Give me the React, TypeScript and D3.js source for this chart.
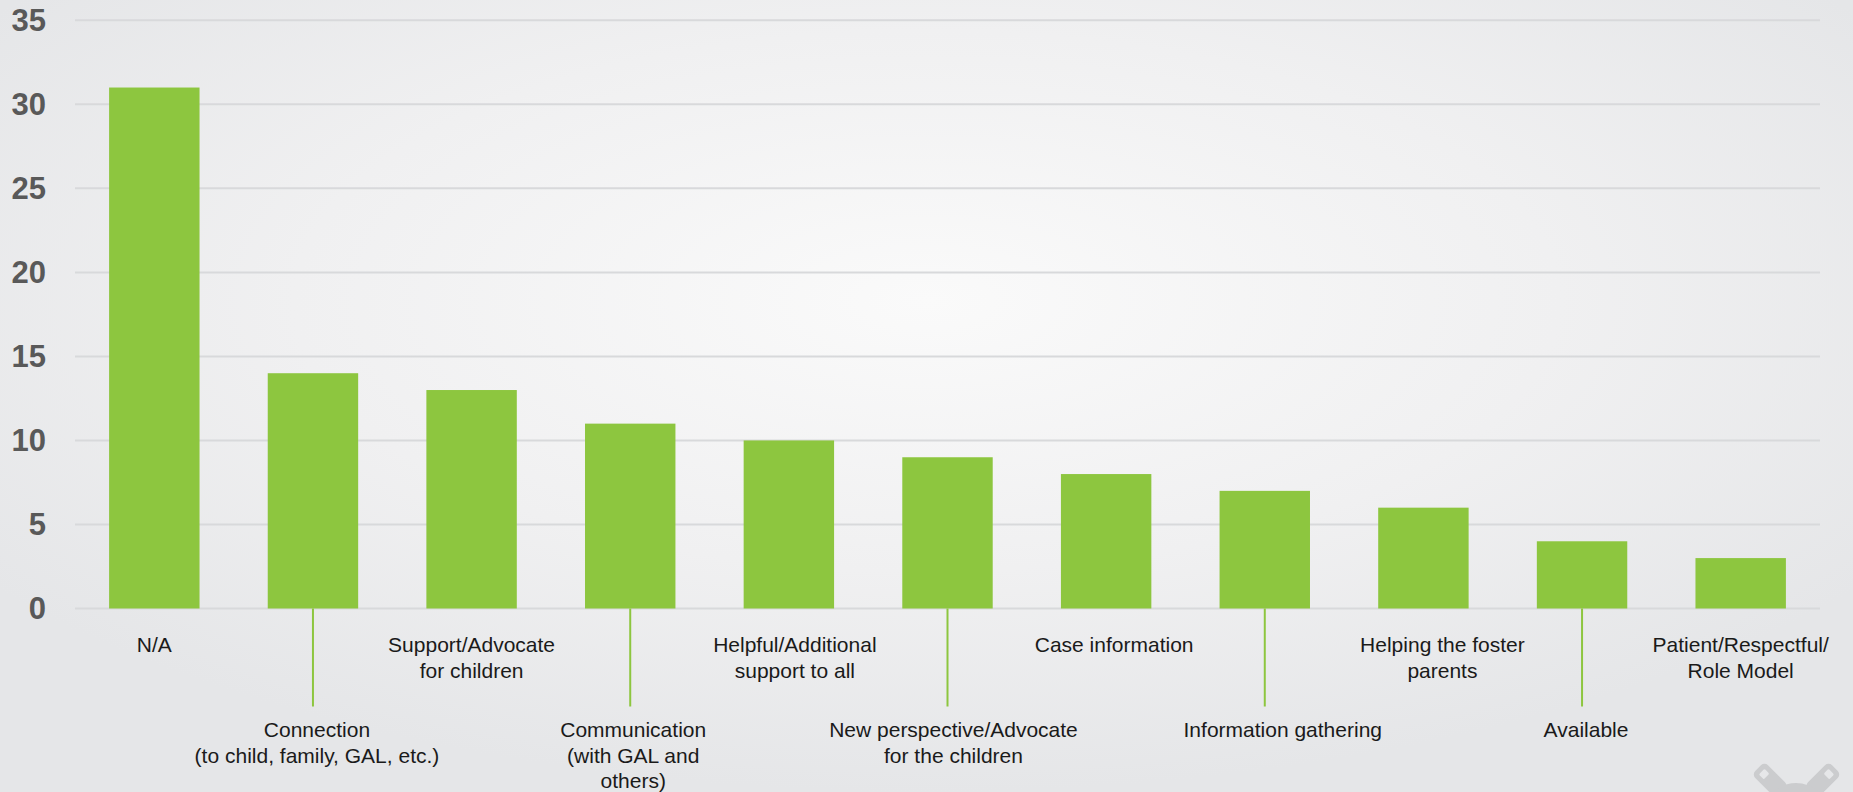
import React from "react";
import * as d3 from "d3";

const categories: string[][] = [
  ["N/A"],
  ["Connection", "(to child, family, GAL, etc.)"],
  ["Support/Advocate", "for children"],
  ["Communication", "(with GAL and", "others)"],
  ["Helpful/Additional", "support to all"],
  ["New perspective/Advocate", "for the children"],
  ["Case information"],
  ["Information gathering"],
  ["Helping the foster", "parents"],
  ["Available"],
  ["Patient/Respectful/", "Role Model"],
];
const values: number[] = [31, 14, 13, 11, 10, 9, 8, 7, 6, 4, 3];
const yTicks: number[] = [0, 5, 10, 15, 20, 25, 30, 35];

// small horizontal nudges of the category labels, as in the original layout
const labelNudge: number[] = [0, 4, 0, 3, 6, 6, 8, 18, 19, 4, 0];

const W = 1853;
const H = 792;
const left = 75;
const right = 1820;
const top = 20.3;
const bottom = 608.5;
const green = "#8dc63f";

export default function App() {
  const x = d3
    .scaleBand<number>()
    .domain(values.map((_, i) => i))
    .range([left, right])
    .paddingInner(0.43)
    .paddingOuter(0.215);
  const y = d3.scaleLinear().domain([0, 35]).range([bottom, top]);
  const center = (i: number) => (x(i) as number) + x.bandwidth() / 2;
  const row1Base = 652;
  const row2Base = 737;
  const lineH = 25.5;

  return (
    <svg
      width={W}
      height={H}
      style={{ position: "absolute", left: 0, top: 0, display: "block" }}
      fontFamily="'Liberation Sans', Arial, sans-serif"
    >
      <defs>
        <radialGradient id="bg" cx="0.5" cy="0.38" r="0.62">
          <stop offset="0" stopColor="#fafafa" />
          <stop offset="0.55" stopColor="#f0f0f1" />
          <stop offset="1" stopColor="#e5e6e8" />
        </radialGradient>
      </defs>
      <rect x={0} y={0} width={W} height={H} fill="url(#bg)" />

      {yTicks.map((t) => (
        <g key={t}>
          <line
            x1={left}
            x2={right}
            y1={y(t)}
            y2={y(t)}
            stroke="#d8d9db"
            strokeWidth={2}
          />
          <text
            x={46}
            y={y(t)}
            textAnchor="end"
            dominantBaseline="central"
            fontSize={31}
            fontWeight="bold"
            fill="#595959"
          >
            {t}
          </text>
        </g>
      ))}

      {values.map((v, i) => (
        <rect
          key={i}
          x={x(i)}
          y={y(v)}
          width={x.bandwidth()}
          height={y(0) - y(v)}
          fill={green}
        />
      ))}

      {categories.map((lines, i) => {
        const odd = i % 2 === 1;
        const base = odd ? row2Base : row1Base;
        const cx = center(i) + labelNudge[i];
        return (
          <g key={i}>
            {odd && (
              <line
                x1={center(i)}
                x2={center(i)}
                y1={y(0)}
                y2={706.5}
                stroke={green}
                strokeWidth={2}
              />
            )}
            <text x={cx} y={base} textAnchor="middle" fontSize={21} fill="#1a1a1a">
              {lines.map((l, k) => (
                <tspan key={k} x={cx} y={base + k * lineH}>
                  {l}
                </tspan>
              ))}
            </text>
          </g>
        );
      })}

      {/* watermark logo (partially visible) */}
      <g fill="#c9cacc" opacity={0.9}>
        <g transform="translate(1768,778) rotate(-45)">
          <rect x={-9} y={-14} width={18} height={34} rx={5} />
          <rect x={-4} y={-9} width={8} height={7} rx={1.5} fill="#e7e8ea" />
        </g>
        <g transform="translate(1825,778) rotate(45)">
          <rect x={-9} y={-14} width={18} height={34} rx={5} />
          <rect x={-4} y={-9} width={8} height={7} rx={1.5} fill="#e7e8ea" />
        </g>
        <path d="M1772,792 Q1796,774 1820,792 Z" />
      </g>
    </svg>
  );
}
